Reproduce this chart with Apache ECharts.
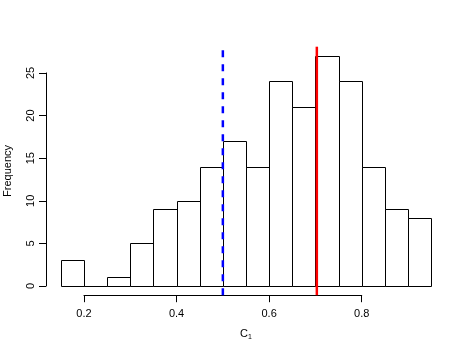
<!DOCTYPE html>
<html><head><meta charset="utf-8">
<script src="https://cdn.jsdelivr.net/npm/echarts@6/dist/echarts.min.js"></script>
<style>html,body{margin:0;padding:0;background:#fff}#c{width:470px;height:353px}</style>
</head><body><div id="c"></div>
<script>
const breaks = [0.15,0.2,0.25,0.3,0.35,0.4,0.45,0.5,0.55,0.6,0.65,0.7,0.75,0.8,0.85,0.9,0.95];
const counts = [3,0,1,5,9,10,14,17,14,24,21,27,24,14,9,8];
const xTicks = [0.2,0.4,0.6,0.8];
const yTicks = [0,5,10,15,20,25];
const blueLineX = [0.5];
const redLineX = [0.703];
const xMin = 0.118, xMax = 0.982, yMin = -1.08, yMax = 28.08;
const font = 'Liberation Sans, Arial, Helvetica, sans-serif';
const snap = v => Math.round(v) + 0.5;

// layout of the plot region
const W = 470, H = 353, L = 46, R = 24, T = 46.7, B = 57.8;
const PW = W - L - R, PH = H - T - B;
const px = v => L + (v - xMin) / (xMax - xMin) * PW;
const py = v => T + (yMax - v) / (yMax - yMin) * PH;
const xt0 = xTicks[0], xt1 = xTicks[xTicks.length-1];
const yt0 = yTicks[0], yt1 = yTicks[yTicks.length-1];

const chart = echarts.init(document.getElementById('c'), null, {renderer:'canvas'});
const barData = counts.map((c,i)=>[breaks[i], breaks[i+1], c]);
const axisLineStyle = {color:'#000', width:1};
const vline = (v, color, type) => ({
  type:'line', xAxisIndex:0, yAxisIndex:0, data:[[v, yMin],[v, yMax]],
  symbol:'none', silent:true, clip:false, z:5,
  lineStyle:{color:color, width:2.5, type:type}
});

chart.setOption({
  animation:false,
  backgroundColor:'#fff',
  grid:[
    {left:L, right:R, top:T, bottom:B, containLabel:false, outerBoundsMode:'none'},
    {left:px(xt0), right:W - px(xt1), top:T, bottom:B, containLabel:false, outerBoundsMode:'none'},
    {left:L, right:R, top:py(yt1), bottom:H - py(yt0), containLabel:false, outerBoundsMode:'none'}
  ],
  xAxis:[
    {gridIndex:0, type:'value', min:xMin, max:xMax,
      axisLine:{show:false}, splitLine:{show:false}, axisTick:{show:false}, axisLabel:{show:false},
      name:'{c|C}{s|1}', nameLocation:'middle', nameGap:32,
      nameTextStyle:{rich:{c:{fontSize:11, fontFamily:font, color:'#000'}, s:{fontSize:7, fontFamily:font, color:'#000', verticalAlign:'bottom', padding:[6,0,0,0]}}}},
    {gridIndex:1, type:'value', min:xt0, max:xt1, interval:xTicks[1]-xTicks[0],
      axisLine:{show:true, lineStyle:axisLineStyle}, splitLine:{show:false},
      axisTick:{show:true, length:7, lineStyle:axisLineStyle},
      axisLabel:{formatter:v=>v.toFixed(1), margin:13, color:'#000', fontSize:11, fontFamily:font}},
    {gridIndex:2, type:'value', show:false}
  ],
  yAxis:[
    {gridIndex:0, type:'value', min:yMin, max:yMax,
      axisLine:{show:false}, splitLine:{show:false}, axisTick:{show:false}, axisLabel:{show:false},
      name:'Frequency', nameLocation:'middle', nameGap:33, nameRotate:90,
      nameTextStyle:{fontSize:11, fontFamily:font, color:'#000'}},
    {gridIndex:1, type:'value', show:false},
    {gridIndex:2, type:'value', min:yt0, max:yt1, interval:yTicks[1]-yTicks[0],
      axisLine:{show:true, lineStyle:axisLineStyle}, splitLine:{show:false},
      axisTick:{show:true, length:7, lineStyle:axisLineStyle},
      axisLabel:{rotate:90, margin:10, color:'#000', fontSize:11, fontFamily:font}}
  ],
  series:[
    {type:'custom', xAxisIndex:0, yAxisIndex:0, data:barData, clip:false,
      renderItem:(params, api)=>{
        const p0 = api.coord([api.value(0), 0]);
        const p1 = api.coord([api.value(1), api.value(2)]);
        const x0 = snap(p0[0]), x1 = snap(p1[0]), y0 = snap(p0[1]), y1 = snap(p1[1]);
        return {type:'rect', shape:{x:x0, y:y1, width:x1-x0, height:y0-y1},
          style:{fill:'#fff', stroke:'#000', lineWidth:1}};
      }},
    ...blueLineX.map(v => vline(v, '#0000ff', [7,7])),
    ...redLineX.map(v => vline(v, '#ff0000', 'solid'))
  ]
});
</script></body></html>
